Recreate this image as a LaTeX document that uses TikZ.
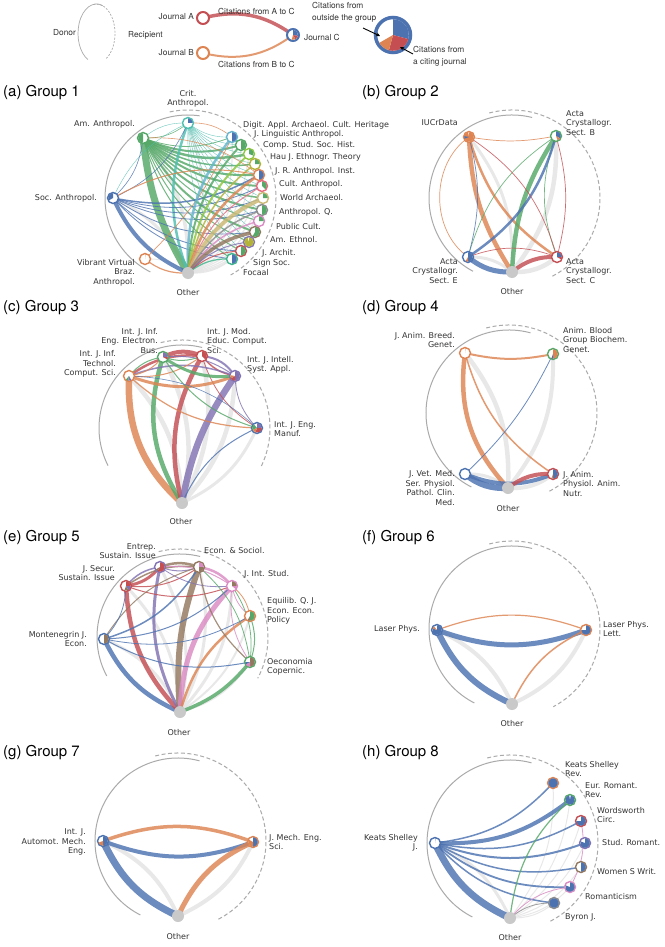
\documentclass[tikz,border=0pt]{standalone}
\usepackage{fontspec}
\setmainfont{DejaVu Sans}
\newfontfamily\heros{TeX Gyre Heros}
\usetikzlibrary{arrows.meta}
\pgfdeclarelayer{bg}
\pgfsetlayers{bg,main}
\definecolor{cB}{HTML}{4C72B0}
\definecolor{cO}{HTML}{DD8452}
\definecolor{cG}{HTML}{55A868}
\definecolor{cR}{HTML}{C44E52}
\definecolor{cP}{HTML}{8172B3}
\definecolor{cN}{HTML}{937860}
\definecolor{cK}{HTML}{DA8BC3}
\definecolor{cA}{HTML}{8C8C8C}
\definecolor{cY}{HTML}{CCB974}
\definecolor{cC}{HTML}{64B5CD}
\definecolor{cT}{HTML}{4FBFB0}
\definecolor{cL}{HTML}{8DC63F}
\definecolor{cV}{HTML}{B3B33A}
\definecolor{cF}{HTML}{3DB58C}
\definecolor{cQ}{HTML}{E86A7E}
\definecolor{eg}{HTML}{E4E4E4}
\definecolor{og}{HTML}{C9C9C9}
\definecolor{lc}{HTML}{333333}
\definecolor{ac}{HTML}{AAAAAA}
\newcommand\cedge[5][20]{\draw[edge,draw=#4,line width=#5pt,bend right=#1] (#2.center) to (#3.center);}
\newcommand\wedgeA[4]{\fill[#4] (#1.center) -- ++(#2:4.8pt) arc[start angle=#2,end angle=#3,radius=4.8pt] -- cycle;}
\newcommand\wedgeR[5]{\fill[#4] (#1.center) -- ++(#2:#5) arc[start angle=#2,end angle=#3,radius=#5] -- cycle;}
\newcommand\grouparcs[6]{%
 \draw[arcs] (#1,-#2) ++(#3:83pt) arc[start angle=#3,end angle=#4,radius=83pt];
 \draw[arcd] (#1,-#2) ++(#5:88pt) arc[start angle=#5,end angle=#6,radius=88pt];}
\begin{document}
\begin{tikzpicture}[x=1pt,y=1pt,
 jn/.style={circle,minimum size=11pt,inner sep=0pt,line width=1.4pt,fill=white},
 oth/.style={circle,minimum size=12pt,inner sep=0pt,fill=og},
 lbl/.style={font=\fontsize{8}{9.4}\selectfont,text=lc,inner sep=0pt},
 lr/.style={lbl,align=right,anchor=east},
 ll/.style={lbl,align=left,anchor=west},
 lm/.style={lbl,align=center},
 ttl/.style={font=\heros\fontsize{15}{17}\selectfont,anchor=west,inner sep=0pt},
 leg/.style={font=\heros\fontsize{8.3}{12}\selectfont,text=lc,inner sep=0pt},
 edge/.style={line cap=round,opacity=0.82},
 faint/.style={opacity=0.5},
 arcs/.style={draw=ac,line width=1pt},
 arcd/.style={draw=ac,line width=1pt,dash pattern=on 4pt off 2.5pt},
]
\useasboundingbox (0,0) rectangle (664,-947);
\begin{pgfonlayer}{bg}
\fill[white] (0,0) rectangle (664,-947);
\end{pgfonlayer}

% ================= LEGEND =================
\draw[arcs,line width=0.7pt] (96.5,-33.5) ++(70:18.5pt and 29.5pt) arc[start angle=70,end angle=242,x radius=18.5pt,y radius=29.5pt];
\draw[arcd,line width=0.7pt,dash pattern=on 2pt off 1.5pt] (96.5,-33.5) ++(100:18.5pt and 29.5pt) arc[start angle=100,end angle=-60,x radius=18.5pt,y radius=29.5pt];
\node[leg,anchor=east] (ldonor) at (76,-33) {Donor};
\node[leg,anchor=west] (lrecip) at (128,-35) {Recipient};
\node[jn,draw=cR,minimum size=12pt,line width=2pt] (la) at (203,-18) {};
\node[jn,draw=cO,minimum size=12pt,line width=2pt] (lb) at (203,-53) {};
\node[jn,draw=cB,minimum size=12pt,line width=2pt] (lc) at (293,-35) {};
\wedgeR{lc}{90}{-10}{cB}{5pt}
\wedgeR{lc}{-10}{-60}{cR}{5pt}
\wedgeR{lc}{-60}{-105}{cO}{5pt}
\begin{pgfonlayer}{bg}
\draw[edge,draw=cR,line width=3.5pt,bend left=25] (la.center) to (lc.center);
\draw[edge,draw=cO,line width=2pt,bend right=25] (lb.center) to (lc.center);
\end{pgfonlayer}
\node[leg,anchor=east] (lja) at (194,-17) {Journal A};
\node[leg,anchor=east] (ljb) at (194,-53) {Journal B};
\node[leg,anchor=west] (ljc) at (304,-37) {Journal C};
\node[leg,anchor=west] (lac) at (218,-11) {Citations from A to C};
\node[leg,anchor=west] (lbc) at (218,-64) {Citations from B to C};
\node[jn,draw=cB,minimum size=35pt,line width=3.5pt] (lbig) at (393,-35) {};
\wedgeR{lbig}{90}{-15}{cB}{15.8pt}
\wedgeR{lbig}{-15}{-105}{cR}{15.8pt}
\wedgeR{lbig}{-105}{-150}{cO}{15.8pt}
\node[leg,anchor=west,align=left] (lout) at (312,-12) {Citations from\\outside the group};
\node[leg,anchor=west,align=left] (lcit) at (413,-56) {Citations from\\a citing journal};
\coordinate (ar1s) at (363,-28);
\coordinate (ar1e) at (380,-36);
\coordinate (ar2s) at (413,-54);
\coordinate (ar2e) at (400,-47);
\draw[line width=0.9pt,-{Stealth[length=4pt,width=4pt]}] (ar1s) -- (ar1e);
\draw[line width=0.9pt,-{Stealth[length=4pt,width=4pt]}] (ar2s) -- (ar2e);

% ================= TITLES =================
\node[ttl] (t1) at (3,-93) {(a) Group 1};
\node[ttl] (t2) at (362,-93) {(b) Group 2};
\node[ttl] (t3) at (3,-308) {(c) Group 3};
\node[ttl] (t4) at (362,-308) {(d) Group 4};
\node[ttl] (t5) at (3,-538) {(e) Group 5};
\node[ttl] (t6) at (362,-538) {(f) Group 6};
\node[ttl] (t7) at (3,-753) {(g) Group 7};
\node[ttl] (t8) at (362,-753) {(h) Group 8};

% ================= GROUP 1 =================
\begin{pgfonlayer}{bg}\grouparcs{188}{198}{82}{243}{102}{-61}\end{pgfonlayer}
\node[oth] (g1o) at (188,-273) {};
\node[jn,draw=cT] (g1crit) at (188,-123) {};
\node[jn,draw=cG] (g1am) at (143,-138) {};
\node[jn,draw=cB] (g1soc) at (113,-198) {};
\node[jn,draw=cO] (g1vib) at (145,-259) {};
\node[jn,draw=cC] (g1dig) at (232,-137) {};
\node[jn,draw=cG] (g1ling) at (241,-145) {};
\node[jn,draw=cL] (g1comp) at (249,-154) {};
\node[jn,draw=cV] (g1hau) at (255,-164) {};
\node[jn,draw=cO] (g1jr) at (259,-175) {};
\node[jn,draw=cQ] (g1cult) at (262,-186) {};
\node[jn,draw=cY] (g1world) at (263,-198) {};
\node[jn,draw=cA] (g1aq) at (262,-210) {};
\node[jn,draw=cK] (g1pub) at (259,-221) {};
\node[jn,draw=cN] (g1ethn) at (255,-232) {};
\node[jn,draw=cP] (g1arch) at (249,-242) {};
\node[jn,draw=cR] (g1sign) at (241,-251) {};
\node[jn,draw=cF] (g1foc) at (232,-259) {};
\wedgeA{g1crit}{90}{0}{cB}
\wedgeA{g1am}{90}{270}{cG}
\wedgeA{g1soc}{90}{210}{cB}
\wedgeA{g1vib}{90}{84}{cO}
\wedgeA{g1dig}{90}{-90}{cB}
\wedgeA{g1ling}{90}{-90}{cG}
\wedgeA{g1comp}{90}{-20}{cG}
\wedgeA{g1hau}{90}{0}{cG}
\wedgeA{g1jr}{90}{-90}{cB}
\wedgeA{g1cult}{90}{-45}{cG}
\wedgeA{g1world}{90}{0}{cG}
\wedgeA{g1aq}{90}{-90}{cG}
\wedgeA{g1pub}{90}{0}{cG}
\wedgeA{g1ethn}{90}{-120}{cG}
\wedgeA{g1arch}{90}{-250}{cV}
\wedgeA{g1sign}{90}{-90}{cG}
\wedgeA{g1foc}{90}{-90}{cB}
\begin{pgfonlayer}{bg}
\cedge{g1o}{g1am}{eg}{3.5}
\cedge{g1o}{g1soc}{eg}{3}
\cedge{g1o}{g1crit}{eg}{2}
\cedge{g1o}{g1vib}{eg}{1}
\cedge{g1o}{g1dig}{eg}{1.2}
\cedge{g1o}{g1ling}{eg}{1.2}
\cedge{g1o}{g1comp}{eg}{1.2}
\cedge{g1o}{g1hau}{eg}{1.2}
\cedge{g1o}{g1jr}{eg}{1.2}
\cedge{g1o}{g1cult}{eg}{1.2}
\cedge{g1o}{g1world}{eg}{1.2}
\cedge{g1o}{g1aq}{eg}{1.2}
\cedge{g1o}{g1pub}{eg}{1.2}
\cedge{g1o}{g1ethn}{eg}{1.2}
\cedge{g1o}{g1arch}{eg}{1.2}
\cedge{g1o}{g1sign}{eg}{1.2}
\cedge{g1o}{g1foc}{eg}{1.2}
\cedge[12]{g1am}{g1o}{cG}{7}
\cedge{g1am}{g1dig}{cG}{0.8}
\cedge{g1am}{g1ling}{cG}{2}
\cedge{g1am}{g1comp}{cG}{2.5}
\cedge{g1am}{g1hau}{cG}{1.5}
\cedge{g1am}{g1jr}{cG}{2}
\cedge{g1am}{g1cult}{cG}{2}
\cedge{g1am}{g1world}{cG}{1.5}
\cedge{g1am}{g1aq}{cG}{2}
\cedge{g1am}{g1pub}{cG}{1}
\cedge{g1am}{g1ethn}{cG}{2}
\cedge{g1am}{g1arch}{cG}{1}
\cedge{g1am}{g1sign}{cG}{1}
\cedge{g1am}{g1foc}{cG}{1}
\cedge{g1am}{g1crit}{cG}{0.6}
\cedge{g1crit}{g1o}{cT}{2.5}
\begin{scope}[faint]
\cedge{g1crit}{g1am}{cT}{0.4}
\cedge{g1crit}{g1soc}{cT}{0.4}
\cedge{g1crit}{g1dig}{cT}{0.4}
\cedge{g1crit}{g1ling}{cT}{0.4}
\cedge{g1crit}{g1comp}{cT}{0.4}
\cedge{g1crit}{g1hau}{cT}{0.4}
\cedge{g1crit}{g1jr}{cT}{0.4}
\cedge{g1crit}{g1cult}{cT}{0.4}
\cedge{g1crit}{g1world}{cT}{0.4}
\cedge{g1crit}{g1aq}{cT}{0.4}
\cedge{g1crit}{g1pub}{cT}{0.4}
\cedge{g1crit}{g1ethn}{cT}{0.4}
\cedge{g1crit}{g1arch}{cT}{0.4}
\cedge{g1crit}{g1sign}{cT}{0.4}
\cedge{g1crit}{g1foc}{cT}{0.4}
\end{scope}
\cedge{g1soc}{g1o}{cB}{4}
\cedge{g1soc}{g1am}{cB}{0.6}
\cedge{g1soc}{g1crit}{cB}{0.6}
\cedge{g1soc}{g1jr}{cB}{1.5}
\cedge{g1soc}{g1cult}{cB}{0.8}
\cedge{g1soc}{g1world}{cB}{0.8}
\cedge{g1soc}{g1aq}{cB}{0.8}
\cedge{g1soc}{g1ethn}{cB}{0.8}
\cedge{g1soc}{g1sign}{cB}{0.8}
\cedge{g1soc}{g1foc}{cB}{0.8}
\cedge{g1vib}{g1o}{cO}{1.2}
\cedge[10]{g1vib}{g1dig}{cO}{0.7}
\cedge{g1dig}{g1o}{cC}{2.5}
\cedge{g1dig}{g1crit}{cO}{0.6}
\cedge{g1ling}{g1o}{cG}{2}
\cedge{g1comp}{g1o}{cL}{2}
\cedge{g1hau}{g1o}{cV}{1.5}
\cedge{g1jr}{g1o}{cO}{2.5}
\cedge{g1jr}{g1soc}{cO}{1}
\cedge{g1jr}{g1am}{cO}{0.6}
\cedge{g1cult}{g1o}{cQ}{1}
\cedge{g1world}{g1o}{cY}{4}
\cedge{g1aq}{g1o}{cA}{1.5}
\cedge{g1pub}{g1o}{cK}{1.5}
\cedge{g1ethn}{g1o}{cN}{3.5}
\cedge{g1arch}{g1o}{cP}{1}
\cedge{g1sign}{g1o}{cR}{1}
\cedge{g1foc}{g1o}{cF}{1.2}
\end{pgfonlayer}
\node[lm] (l1crit) at (188,-98.5) {Crit.\\Anthropol.};
\node[lr] (l1am) at (135,-124) {Am. Anthropol.};
\node[lr] (l1soc) at (97,-198) {Soc. Anthropol.};
\node[lr] (l1vib) at (135,-272.5) {Vibrant Virtual\\Braz.\\Anthropol.};
\node[ll] (l1dig) at (243,-125) {Digit. Appl. Archaeol. Cult. Heritage};
\node[ll] (l1ling) at (254,-134) {J. Linguistic Anthropol.};
\node[ll] (l1comp) at (263,-145) {Comp. Stud. Soc. Hist.};
\node[ll] (l1hau) at (270,-157) {Hau J. Ethnogr. Theory};
\node[ll] (l1jr) at (275,-171) {J. R. Anthropol. Inst.};
\node[ll] (l1cult) at (279,-184) {Cult. Anthropol.};
\node[ll] (l1world) at (280,-198) {World Archaeol.};
\node[ll] (l1aq) at (279,-212) {Anthropol. Q.};
\node[ll] (l1pub) at (276,-227) {Public Cult.};
\node[ll] (l1ethn) at (270,-240) {Am. Ethnol.};
\node[ll] (l1arch) at (262,-253) {J. Archit.};
\node[ll] (l1sign) at (253,-263) {Sign Soc.};
\node[ll] (l1foc) at (243,-273) {Focaal};
\node[lm] (l1o) at (188,-293) {Other};

% ================= GROUP 2 =================
\begin{pgfonlayer}{bg}\grouparcs{512}{198}{76}{242}{105}{-63}\end{pgfonlayer}
\node[oth] (g2o) at (512,-272) {};
\node[jn,draw=cO] (g2i) at (469,-137) {};
\node[jn,draw=cG] (g2b) at (556,-136) {};
\node[jn,draw=cB] (g2e) at (468,-257) {};
\node[jn,draw=cR] (g2c) at (557,-257) {};
\wedgeA{g2i}{90}{-260}{cO}
\wedgeA{g2i}{200}{170}{cB}
\wedgeA{g2b}{90}{-30}{cB}
\wedgeA{g2b}{-30}{-70}{cO}
\wedgeA{g2e}{90}{-90}{cB}
\wedgeA{g2e}{-90}{-120}{cO}
\wedgeA{g2c}{90}{0}{cB}
\wedgeA{g2c}{0}{-30}{cR}
\begin{pgfonlayer}{bg}
\cedge{g2o}{g2i}{eg}{3}
\cedge{g2o}{g2b}{eg}{4.5}
\cedge{g2o}{g2e}{eg}{3}
\cedge{g2o}{g2c}{eg}{4.5}
\cedge[15]{g2i}{g2o}{cO}{4.5}
\cedge{g2i}{g2c}{cO}{2.5}
\cedge[10]{g2i}{g2b}{cO}{0.7}
\cedge[55]{g2i}{g2e}{cO}{0.7}
\cedge[15]{g2b}{g2o}{cG}{4.5}
\cedge{g2b}{g2e}{cG}{0.7}
\cedge{g2b}{g2c}{cG}{0.7}
\cedge{g2e}{g2b}{cB}{2.5}
\cedge{g2e}{g2o}{cB}{5}
\cedge[15]{g2e}{g2i}{cB}{0.7}
\cedge{g2c}{g2o}{cR}{4}
\cedge{g2c}{g2i}{cR}{0.7}
\cedge[15]{g2c}{g2b}{cR}{0.7}
\cedge{g2c}{g2e}{cR}{0.7}
\end{pgfonlayer}
\node[lr] (l2i) at (458,-123) {IUCrData};
\node[ll] (l2b) at (566,-123) {Acta\\Crystallogr.\\Sect. B};
\node[lr] (l2e) at (458,-271) {Acta\\Crystallogr.\\Sect. E};
\node[ll] (l2c) at (566,-271) {Acta\\Crystallogr.\\Sect. C};
\node[lm] (l2o) at (512,-292) {Other};

% ================= GROUP 3 =================
\begin{pgfonlayer}{bg}\grouparcs{182}{428}{76}{207}{104}{-27}\end{pgfonlayer}
\node[oth] (g3o) at (182,-503) {};
\node[jn,draw=cO] (g3t) at (129,-376) {};
\node[jn,draw=cG] (g3bu) at (163,-357) {};
\node[jn,draw=cR] (g3m) at (202,-356) {};
\node[jn,draw=cP] (g3in) at (235,-376) {};
\node[jn,draw=cB] (g3mf) at (257,-428) {};
\wedgeA{g3t}{-60}{-100}{cP}
\wedgeA{g3t}{-100}{-130}{cG}
\wedgeA{g3bu}{90}{0}{cP}
\wedgeA{g3bu}{0}{-30}{cR}
\wedgeA{g3m}{90}{-45}{cR}
\wedgeA{g3in}{90}{-90}{cP}
\wedgeA{g3in}{-90}{-150}{cR}
\wedgeA{g3in}{-150}{-190}{cO}
\wedgeA{g3mf}{90}{0}{cP}
\wedgeA{g3mf}{0}{-110}{cR}
\wedgeA{g3mf}{-110}{-160}{cO}
\wedgeA{g3mf}{-160}{-230}{cG}
\begin{pgfonlayer}{bg}
\cedge{g3o}{g3t}{eg}{4.5}
\cedge{g3o}{g3bu}{eg}{4.5}
\cedge{g3o}{g3m}{eg}{4.5}
\cedge{g3o}{g3in}{eg}{4.5}
\cedge{g3o}{g3mf}{eg}{3}
\cedge[25]{g3t}{g3o}{cO}{6.5}
\cedge[25]{g3bu}{g3o}{cG}{4.5}
\cedge[22]{g3m}{g3o}{cR}{4.5}
\cedge[12]{g3in}{g3o}{cP}{6.5}
\cedge{g3mf}{g3o}{cB}{1}
\cedge[25]{g3m}{g3bu}{cR}{4}
\cedge{g3m}{g3t}{cR}{2.5}
\cedge{g3m}{g3in}{cR}{1.5}
\cedge{g3m}{g3mf}{cR}{0.8}
\cedge[25]{g3in}{g3m}{cP}{2}
\cedge{g3in}{g3t}{cP}{1.5}
\cedge{g3in}{g3bu}{cP}{1}
\cedge{g3in}{g3mf}{cP}{0.8}
\cedge{g3t}{g3in}{cO}{3}
\cedge{g3t}{g3m}{cO}{1}
\cedge{g3t}{g3bu}{cO}{1}
\cedge{g3t}{g3mf}{cO}{1.2}
\cedge{g3bu}{g3in}{cG}{3}
\cedge{g3bu}{g3t}{cG}{1}
\cedge{g3bu}{g3mf}{cG}{1}
\cedge{g3bu}{g3m}{cG}{1}
\cedge{g3mf}{g3t}{cB}{0.6}
\end{pgfonlayer}
\node[lr] (l3t) at (116,-364) {Int. J. Inf.\\Technol.\\Comput. Sci.};
\node[lr] (l3bu) at (158,-341) {Int. J. Inf.\\Eng. Electron.\\Bus.};
\node[ll] (l3m) at (207,-341) {Int. J. Mod.\\Educ. Comput.\\Sci.};
\node[ll] (l3in) at (247,-365) {Int. J. Intell.\\Syst. Appl.};
\node[ll] (l3mf) at (274,-429) {Int. J. Eng.\\Manuf.};
\node[lm] (l3o) at (181,-522) {Other};

% ================= GROUP 4 =================
\begin{pgfonlayer}{bg}\grouparcs{509}{413}{75}{243}{105}{-64}\end{pgfonlayer}
\node[oth] (g4o) at (508,-488) {};
\node[jn,draw=cO] (g4br) at (465,-353) {};
\node[jn,draw=cG] (g4bl) at (553,-354) {};
\node[jn,draw=cB] (g4v) at (465,-474) {};
\node[jn,draw=cR] (g4p) at (553,-474) {};
\wedgeA{g4br}{90}{84}{cO}
\wedgeA{g4bl}{90}{-90}{cO}
\wedgeA{g4bl}{-90}{-110}{cB}
\wedgeA{g4p}{90}{-90}{cB}
\wedgeA{g4p}{-90}{-110}{cO}
\begin{pgfonlayer}{bg}
\cedge{g4o}{g4br}{eg}{4.5}
\cedge{g4o}{g4bl}{eg}{4}
\cedge{g4o}{g4v}{eg}{3}
\cedge{g4o}{g4p}{eg}{4}
\cedge[25]{g4br}{g4o}{cO}{4.5}
\cedge[12]{g4br}{g4bl}{cO}{2}
\cedge{g4br}{g4p}{cO}{1.5}
\cedge{g4v}{g4o}{cB}{6}
\cedge[22]{g4v}{g4p}{cB}{4}
\cedge[10]{g4v}{g4bl}{cB}{0.8}
\cedge{g4p}{g4o}{cR}{4}
\end{pgfonlayer}
\node[lr] (l4br) at (455,-340) {J. Anim. Breed.\\Genet.};
\node[ll] (l4bl) at (563,-340) {Anim. Blood\\Group Biochem.\\Genet.};
\node[lr] (l4v) at (455,-488) {J. Vet. Med.\\Ser. Physiol.\\Pathol. Clin.\\Med.};
\node[ll] (l4p) at (563,-484) {J. Anim.\\Physiol. Anim.\\Nutr.};
\node[lm] (l4o) at (508,-509) {Other};

% ================= GROUP 5 =================
\begin{pgfonlayer}{bg}\grouparcs{180}{637}{76}{208}{104}{-28}\end{pgfonlayer}
\node[oth] (g5o) at (180,-712) {};
\node[jn,draw=cR] (g5s) at (126,-586) {};
\node[jn,draw=cP] (g5en) at (160,-567) {};
\node[jn,draw=cN] (g5ec) at (199,-567) {};
\node[jn,draw=cK] (g5is) at (232,-586) {};
\node[jn,draw=cO] (g5eq) at (250,-616) {};
\node[jn,draw=cG] (g5oe) at (250,-662) {};
\node[jn,draw=cB] (g5mo) at (104,-639) {};
\wedgeA{g5s}{90}{0}{cR}
\wedgeA{g5s}{0}{-60}{cP}
\wedgeA{g5s}{-60}{-110}{cN}
\wedgeA{g5en}{90}{-120}{cR}
\wedgeA{g5en}{-120}{-150}{cN}
\wedgeA{g5ec}{90}{0}{cK}
\wedgeA{g5ec}{0}{-90}{cN}
\wedgeA{g5is}{90}{0}{cN}
\wedgeA{g5is}{0}{-40}{cK}
\wedgeA{g5eq}{90}{-90}{cG}
\wedgeA{g5eq}{-90}{-120}{cN}
\wedgeA{g5oe}{90}{-90}{cN}
\wedgeA{g5oe}{-90}{-150}{cK}
\wedgeA{g5oe}{-150}{-180}{cB}
\wedgeA{g5mo}{90}{-90}{cN}
\begin{pgfonlayer}{bg}
\cedge{g5o}{g5s}{eg}{3}
\cedge{g5o}{g5en}{eg}{3}
\cedge{g5o}{g5ec}{eg}{3}
\cedge{g5o}{g5is}{eg}{3}
\cedge{g5o}{g5mo}{eg}{3}
\cedge{g5o}{g5eq}{eg}{2}
\cedge{g5o}{g5oe}{eg}{2}
\cedge{g5mo}{g5o}{cB}{4.5}
\cedge{g5s}{g5o}{cR}{4.5}
\cedge{g5en}{g5o}{cP}{3}
\cedge[12]{g5ec}{g5o}{cN}{6}
\cedge{g5is}{g5o}{cK}{5}
\cedge{g5eq}{g5o}{cO}{2.5}
\cedge[-15]{g5oe}{g5o}{cG}{3.5}
\cedge{g5s}{g5en}{cR}{3}
\cedge{g5s}{g5ec}{cR}{1}
\cedge{g5s}{g5is}{cR}{1}
\cedge{g5en}{g5s}{cP}{1.5}
\cedge{g5en}{g5ec}{cP}{1}
\cedge{g5en}{g5is}{cP}{0.8}
\cedge{g5ec}{g5s}{cN}{1.5}
\cedge{g5ec}{g5en}{cN}{2.5}
\cedge{g5ec}{g5mo}{cN}{1}
\cedge{g5ec}{g5oe}{cN}{1.2}
\cedge{g5is}{g5ec}{cK}{2.5}
\cedge{g5is}{g5oe}{cK}{0.8}
\cedge{g5is}{g5eq}{cK}{0.8}
\cedge{g5is}{g5en}{cK}{1}
\cedge{g5mo}{g5s}{cB}{0.8}
\cedge{g5mo}{g5ec}{cB}{1.5}
\cedge{g5mo}{g5is}{cB}{1}
\cedge{g5mo}{g5eq}{cB}{0.8}
\cedge{g5mo}{g5oe}{cB}{1}
\cedge{g5oe}{g5eq}{cG}{1}
\cedge{g5oe}{g5ec}{cG}{0.8}
\cedge{g5oe}{g5is}{cG}{0.8}
\cedge{g5eq}{g5is}{cO}{0.8}
\end{pgfonlayer}
\node[lr] (l5en) at (156,-551) {Entrep.\\Sustain. Issue};
\node[lr] (l5s) at (115,-573) {J. Secur.\\Sustain. Issue};
\node[ll] (l5ec) at (204,-551) {Econ. \& Sociol.};
\node[ll] (l5is) at (244,-574) {J. Int. Stud.};
\node[ll] (l5eq) at (267,-611) {Equilib. Q. J.\\Econ. Econ.\\Policy};
\node[lr] (l5mo) at (87,-639) {Montenegrin J.\\Econ.};
\node[ll] (l5oe) at (267,-667) {Oeconomia\\Copernic.};
\node[lm] (l5o) at (179,-733) {Other};

% ================= GROUP 6 =================
\begin{pgfonlayer}{bg}\grouparcs{512}{629}{76}{243}{105}{-62}\end{pgfonlayer}
\node[oth] (g6o) at (512,-704) {};
\node[jn,draw=cB] (g6lp) at (437,-630) {};
\node[jn,draw=cO] (g6lt) at (586,-630) {};
\wedgeA{g6lp}{90}{-200}{cB}
\wedgeA{g6lp}{-200}{-230}{cO}
\wedgeA{g6lt}{90}{-180}{cB}
\begin{pgfonlayer}{bg}
\cedge{g6o}{g6lp}{eg}{4}
\cedge{g6o}{g6lt}{eg}{4}
\cedge{g6lp}{g6lt}{cB}{5}
\cedge{g6lt}{g6lp}{cO}{1.2}
\cedge{g6lp}{g6o}{cB}{6}
\cedge{g6lt}{g6o}{cO}{1.5}
\end{pgfonlayer}
\node[lr] (l6lp) at (420,-629) {Laser Phys.};
\node[ll] (l6lt) at (603,-629) {Laser Phys.\\Lett.};
\node[lm] (l6o) at (512,-724) {Other};

% ================= GROUP 7 =================
\begin{pgfonlayer}{bg}\grouparcs{178}{841}{75}{243}{105}{-63}\end{pgfonlayer}
\node[oth] (g7o) at (178,-916) {};
\node[jn,draw=cB] (g7au) at (103,-841) {};
\node[jn,draw=cO] (g7me) at (253,-842) {};
\wedgeA{g7au}{90}{-90}{cB}
\wedgeA{g7au}{-90}{-160}{cO}
\wedgeA{g7me}{90}{-90}{cB}
\wedgeA{g7me}{-90}{-210}{cO}
\begin{pgfonlayer}{bg}
\cedge{g7o}{g7au}{eg}{4}
\cedge{g7o}{g7me}{eg}{4}
\cedge{g7au}{g7me}{cB}{4}
\cedge{g7me}{g7au}{cO}{3.5}
\cedge{g7au}{g7o}{cB}{7}
\cedge{g7me}{g7o}{cO}{5}
\end{pgfonlayer}
\node[lr] (l7au) at (86,-842) {Int. J.\\Automot. Mech.\\Eng.};
\node[ll] (l7me) at (269,-842) {J. Mech. Eng.\\Sci.};
\node[lm] (l7o) at (178,-937) {Other};

% ================= GROUP 8 =================
\begin{pgfonlayer}{bg}\grouparcs{510}{843}{75}{243}{105}{-63}\end{pgfonlayer}
\node[oth] (g8o) at (510,-918) {};
\node[jn,draw=cB] (g8k) at (435,-843) {};
\node[jn,draw=cO] (g8r) at (553,-783) {};
\node[jn,draw=cG] (g8eu) at (570,-800) {};
\node[jn,draw=cR] (g8w) at (581,-821) {};
\node[jn,draw=cP] (g8st) at (585,-843) {};
\node[jn,draw=cN] (g8wo) at (581,-867) {};
\node[jn,draw=cK] (g8ro) at (570,-887) {};
\node[jn,draw=cA] (g8by) at (554,-903) {};
\wedgeA{g8k}{90}{84}{cB}
\wedgeA{g8r}{90}{-269}{cB}
\wedgeA{g8eu}{80}{-260}{cB}
\wedgeA{g8w}{90}{-180}{cB}
\wedgeA{g8st}{90}{-200}{cB}
\wedgeA{g8wo}{90}{-90}{cB}
\wedgeA{g8ro}{90}{-200}{cB}
\wedgeA{g8by}{90}{-269}{cB}
\begin{pgfonlayer}{bg}
\cedge{g8o}{g8k}{eg}{3}
\cedge{g8o}{g8r}{eg}{1}
\cedge{g8o}{g8eu}{eg}{1}
\cedge{g8o}{g8w}{eg}{1}
\cedge{g8o}{g8st}{eg}{1}
\cedge{g8o}{g8wo}{eg}{1}
\cedge{g8o}{g8ro}{eg}{1}
\cedge{g8o}{g8by}{eg}{1}
\cedge{g8k}{g8o}{cB}{7}
\cedge{g8k}{g8r}{cB}{1.5}
\cedge{g8k}{g8eu}{cB}{4}
\cedge{g8k}{g8w}{cB}{1.5}
\cedge{g8k}{g8st}{cB}{2}
\cedge{g8k}{g8wo}{cB}{1.5}
\cedge{g8k}{g8ro}{cB}{1.8}
\cedge{g8k}{g8by}{cB}{1.5}
\cedge{g8eu}{g8o}{cG}{1.2}
\cedge{g8ro}{g8w}{cK}{0.8}
\cedge{g8ro}{g8o}{cK}{0.8}
\cedge{g8by}{g8o}{cA}{0.8}
\end{pgfonlayer}
\node[lr] (l8k) at (418,-843) {Keats Shelley\\J.};
\node[ll] (l8r) at (565,-769) {Keats Shelley\\Rev.};
\node[ll] (l8eu) at (585,-790) {Eur. Romant.\\Rev.};
\node[ll] (l8w) at (597,-815) {Wordsworth\\Circ.};
\node[ll] (l8st) at (602,-843) {Stud. Romant.};
\node[ll] (l8wo) at (597,-872) {Women S Writ.};
\node[ll] (l8ro) at (585,-897) {Romanticism};
\node[ll] (l8by) at (565,-917) {Byron J.};
\node[lm] (l8o) at (510,-938) {Other};
\end{tikzpicture}
\end{document}
